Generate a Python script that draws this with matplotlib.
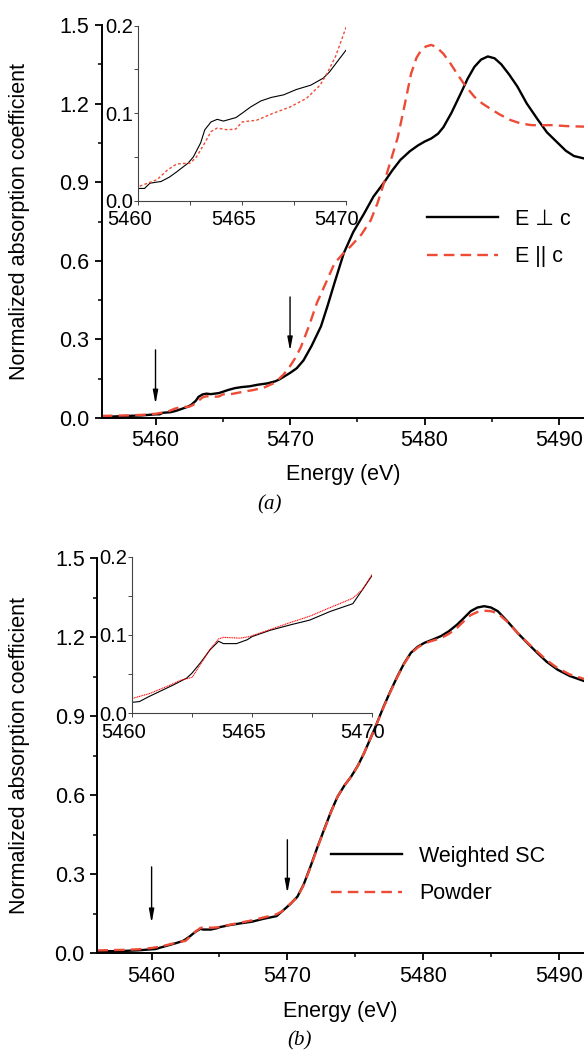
import matplotlib
matplotlib.use("Agg")
import matplotlib.pyplot as plt
import matplotlib.transforms as mtransforms
from matplotlib.ticker import MultipleLocator, FormatStrFormatter

plt.rcParams['font.family'] = ['Liberation Sans', 'DejaVu Sans']

RED = '#ee4b37'

# ---- panel (a): polarised single crystal ----
e_perp = [5456, 5457, 5458, 5459, 5460, 5460.3, 5460.56, 5461.1, 5461.5, 5461.85,
          5462.4, 5462.65, 5463.0, 5463.2, 5463.5, 5463.8, 5464.1, 5464.4, 5464.7, 5465.0,
          5465.4, 5465.9, 5466.4, 5467.0, 5467.6, 5468.3, 5468.9, 5469.2, 5469.55, 5470.0,
          5470.5, 5471.0, 5471.6, 5472.3, 5472.8, 5473.3, 5474.0, 5474.7, 5475.5, 5476.2,
          5477.0, 5477.6, 5478.2, 5478.9, 5479.5, 5480.0, 5480.5, 5481.0, 5481.4, 5482.0,
          5482.7, 5483.2, 5483.7, 5484.2, 5484.7, 5485.2, 5485.7, 5486.3, 5486.9, 5487.6,
          5488.4, 5489.1, 5489.9, 5490.5, 5491.1, 5491.9]
mu_perp = [0.004, 0.006, 0.008, 0.010, 0.014, 0.014, 0.020, 0.022, 0.027, 0.033,
           0.043, 0.050, 0.066, 0.081, 0.090, 0.093, 0.091, 0.093, 0.095, 0.100,
           0.107, 0.114, 0.118, 0.121, 0.127, 0.132, 0.140, 0.147, 0.158, 0.172,
           0.190, 0.220, 0.275, 0.350, 0.430, 0.515, 0.630, 0.710, 0.780, 0.845,
           0.900, 0.945, 0.985, 1.018, 1.040, 1.055, 1.067, 1.085, 1.110, 1.165,
           1.240, 1.295, 1.340, 1.368, 1.380, 1.373, 1.350, 1.310, 1.265, 1.200,
           1.140, 1.090, 1.050, 1.020, 1.000, 0.990]

e_par = [5456, 5457, 5458, 5459, 5460, 5460.9, 5461.4, 5461.85, 5462.5, 5462.8,
         5463.2, 5463.5, 5463.8, 5464.3, 5464.7, 5465.0, 5465.7, 5466.5, 5467.3, 5468.1,
         5468.75, 5469.1, 5469.5, 5470.0, 5470.4, 5470.8, 5471.4, 5472.0, 5472.7, 5473.3,
         5473.9, 5474.5, 5475.3, 5476.0, 5476.5, 5477.0, 5477.5, 5478.0, 5478.5, 5479.0,
         5479.4, 5479.7, 5480.1, 5480.5, 5480.9, 5481.4, 5481.9, 5482.4, 5483.0, 5483.7,
         5484.3, 5484.9, 5485.6, 5486.4, 5487.1, 5487.9, 5488.6, 5489.4, 5490.6, 5491.9]
mu_par = [0.008, 0.009, 0.010, 0.012, 0.016, 0.024, 0.035, 0.042, 0.043, 0.050,
          0.066, 0.079, 0.083, 0.081, 0.082, 0.090, 0.092, 0.100, 0.107, 0.117,
          0.132, 0.146, 0.165, 0.198, 0.230, 0.270, 0.350, 0.440, 0.520, 0.590,
          0.625, 0.655, 0.700, 0.755, 0.820, 0.900, 0.985, 1.070, 1.190, 1.315,
          1.375, 1.400, 1.418, 1.424, 1.415, 1.390, 1.355, 1.315, 1.270, 1.226,
          1.200, 1.180, 1.158, 1.137, 1.125, 1.118, 1.117, 1.118, 1.114, 1.112]

# ---- panel (b): weighted single crystal vs powder ----
e_sc = [5456, 5457, 5458, 5459, 5460.0, 5460.3, 5460.67, 5461.15, 5461.7, 5462.27,
        5462.48, 5462.83, 5463.24, 5463.6, 5463.8, 5464.35, 5464.8, 5465.0, 5465.75, 5466.6,
        5467.4, 5468.25, 5469.2, 5469.76, 5470.2, 5470.74, 5471.2, 5471.7, 5472.2, 5472.7,
        5473.2, 5473.7, 5474.2, 5474.7, 5475.2, 5475.65, 5476.4, 5477.1, 5477.6, 5478.1,
        5478.6, 5479.1, 5479.6, 5480.1, 5480.7, 5481.3, 5481.9, 5482.5, 5483.0, 5483.5,
        5484.0, 5484.5, 5485.0, 5485.5, 5486.2, 5486.95, 5487.7, 5488.4, 5489.1, 5489.9,
        5490.8, 5491.9]
mu_sc = [0.006, 0.007, 0.008, 0.010, 0.014, 0.015, 0.021, 0.028, 0.036, 0.045,
         0.051, 0.064, 0.081, 0.092, 0.089, 0.089, 0.094, 0.098, 0.106, 0.113,
         0.119, 0.130, 0.140, 0.165, 0.185, 0.214, 0.260, 0.328, 0.400, 0.468,
         0.535, 0.594, 0.636, 0.670, 0.712, 0.759, 0.848, 0.937, 0.995, 1.050,
         1.100, 1.140, 1.163, 1.178, 1.190, 1.203, 1.222, 1.247, 1.272, 1.298,
         1.312, 1.317, 1.312, 1.298, 1.260, 1.216, 1.176, 1.140, 1.106, 1.076,
         1.052, 1.032]

e_pow = [5456, 5457, 5458, 5459, 5460.0, 5460.7, 5461.5, 5462.0, 5462.5, 5462.85,
         5463.25, 5463.6, 5463.8, 5464.5, 5464.9, 5465.75, 5466.6, 5467.4, 5468.25, 5469.2,
         5469.6, 5470.0, 5470.74, 5471.2, 5471.7, 5472.2, 5472.7, 5473.2, 5473.7, 5474.2,
         5474.7, 5475.2, 5475.65, 5476.4, 5477.1, 5477.6, 5478.1, 5478.6, 5479.1, 5479.6,
         5480.1, 5480.7, 5481.3, 5481.9, 5482.5, 5483.0, 5483.5, 5484.0, 5484.5, 5485.0,
         5485.5, 5486.2, 5486.95, 5487.7, 5488.4, 5489.1, 5489.9, 5490.8, 5491.9]
mu_pow = [0.010, 0.011, 0.012, 0.014, 0.019, 0.025, 0.035, 0.042, 0.046, 0.063,
          0.082, 0.095, 0.097, 0.096, 0.098, 0.107, 0.116, 0.124, 0.135, 0.147,
          0.158, 0.177, 0.212, 0.258, 0.325, 0.398, 0.466, 0.533, 0.594, 0.636,
          0.670, 0.712, 0.759, 0.848, 0.935, 0.993, 1.048, 1.098, 1.138, 1.160,
          1.176, 1.186, 1.195, 1.212, 1.235, 1.260, 1.283, 1.295, 1.300, 1.298,
          1.290, 1.258, 1.216, 1.178, 1.145, 1.112, 1.082, 1.058, 1.040]

arrow_x = [5460, 5470]
arrows_a = [(0.260, 0.053), (0.462, 0.256)]
arrows_b = [(0.327, 0.114), (0.430, 0.227)]

W, H = 584, 1053
fig = plt.figure(figsize=(W / 100, H / 100), dpi=100)


def fr(left, top, right, bottom):
    # pixel box -> figure fraction rect
    return [left / W, 1 - bottom / H, (right - left) / W, (bottom - top) / H]


def style_main(ax):
    for s in ['top', 'right']:
        ax.spines[s].set_visible(False)
    for s in ['left', 'bottom']:
        ax.spines[s].set_linewidth(1.4)
    ax.set_xlim(5456, 5491.85)
    ax.set_ylim(0, 1.5)
    ax.xaxis.set_major_locator(MultipleLocator(10))
    ax.xaxis.set_minor_locator(MultipleLocator(5))
    ax.yaxis.set_major_locator(MultipleLocator(0.3))
    ax.yaxis.set_minor_locator(MultipleLocator(0.15))
    ax.yaxis.set_major_formatter(FormatStrFormatter('%.1f'))
    ax.tick_params(which='major', direction='out', length=5, width=1.3, labelsize=15.5, pad=4)
    ax.tick_params(which='minor', direction='out', length=3, width=1.1)
    ax.set_xlabel('Energy (eV)', fontsize=15.5)
    ax.set_ylabel('Normalized absorption coefficient', fontsize=15.5)


def style_inset(ax):
    for s in ['top', 'right']:
        ax.spines[s].set_visible(False)
    for s in ['left', 'bottom']:
        ax.spines[s].set_linewidth(0.8)
        ax.spines[s].set_color('#444444')
    ax.set_facecolor('none')
    ax.set_xlim(5460, 5470)
    ax.set_ylim(0, 0.2)
    ax.xaxis.set_major_locator(MultipleLocator(5))
    ax.xaxis.set_minor_locator(MultipleLocator(2.5))
    ax.yaxis.set_major_locator(MultipleLocator(0.1))
    ax.yaxis.set_minor_locator(MultipleLocator(0.05))
    ax.yaxis.set_major_formatter(FormatStrFormatter('%.1f'))
    ax.tick_params(which='both', direction='out', length=3, width=0.7, labelsize=14.5,
                   color='#444444')
    ax.tick_params(axis='y', pad=1)
    ax.tick_params(axis='x', pad=4)
    # the inset's energy labels sit a little left of their ticks
    shift = mtransforms.ScaledTranslation(-9 / 100, 0, fig.dpi_scale_trans)
    for lab in ax.get_xticklabels():
        lab.set_transform(lab.get_transform() + shift)


def draw_arrows(ax, pts):
    for x, (y0, y1) in zip(arrow_x, pts):
        ax.annotate('', xy=(x, y1), xytext=(x, y0),
                    arrowprops=dict(arrowstyle='-|>,head_length=0.8,head_width=0.15',
                                    lw=1.0, color='black', shrinkA=0, shrinkB=0))


# panel (a)
ax1 = fig.add_axes(fr(101.7, 25, 584, 418))
ax1.plot(e_perp, mu_perp, color='black', lw=1.7, label='E \u22a5 c')
ax1.plot(e_par, mu_par, color=RED, lw=1.7, dashes=(4.5, 2.6), label='E || c')
style_main(ax1)
ax1.yaxis.set_label_coords(-0.149, 0.5)
ax1.xaxis.set_label_coords(0.5, -0.118)
draw_arrows(ax1, arrows_a)
ax1.legend(loc='center left', bbox_to_anchor=(427 / W, 1 - 238 / H),
           bbox_transform=fig.transFigure, frameon=False, fontsize=15.5,
           handlelength=3.3, handletextpad=0.8, labelspacing=0.75, borderpad=0,
           borderaxespad=0)

in1 = fig.add_axes(fr(138.3, 25.7, 346, 200.7))
in1.plot(e_perp, mu_perp, color='black', lw=0.8)
in1.plot(e_par, mu_par, color=RED, lw=1.0, dashes=(2, 1.6))
style_inset(in1)

fig.text(270 / W, 1 - 505 / H, '(a)', fontsize=15, family='Liberation Serif',
         style='italic', ha='center', va='center')

# panel (b)
ax2 = fig.add_axes(fr(97.3, 558, 584, 953))
ax2.plot(e_sc, mu_sc, color='black', lw=1.7, label='Weighted SC')
ax2.plot(e_pow, mu_pow, color=RED, lw=1.7, dashes=(4.5, 2.6), label='Powder')
style_main(ax2)
ax2.yaxis.set_label_coords(-0.138, 0.5)
ax2.xaxis.set_label_coords(0.5, -0.122)
draw_arrows(ax2, arrows_b)
ax2.legend(loc='center left', bbox_to_anchor=(331 / W, 1 - 875 / H),
           bbox_transform=fig.transFigure, frameon=False, fontsize=15.5,
           handlelength=3.3, handletextpad=0.8, labelspacing=0.75, borderpad=0,
           borderaxespad=0)

in2 = fig.add_axes(fr(132.3, 556.7, 372, 713.3))
in2.plot(e_sc, mu_sc, color='black', lw=0.8)
in2.plot(e_pow, mu_pow, color='red', lw=0.8, dashes=(1, 0.6))
style_inset(in2)

fig.text(300 / W, 1 - 1041 / H, '(b)', fontsize=15, family='Liberation Serif',
         style='italic', ha='center', va='center')

fig.savefig('out.png', dpi=100)
